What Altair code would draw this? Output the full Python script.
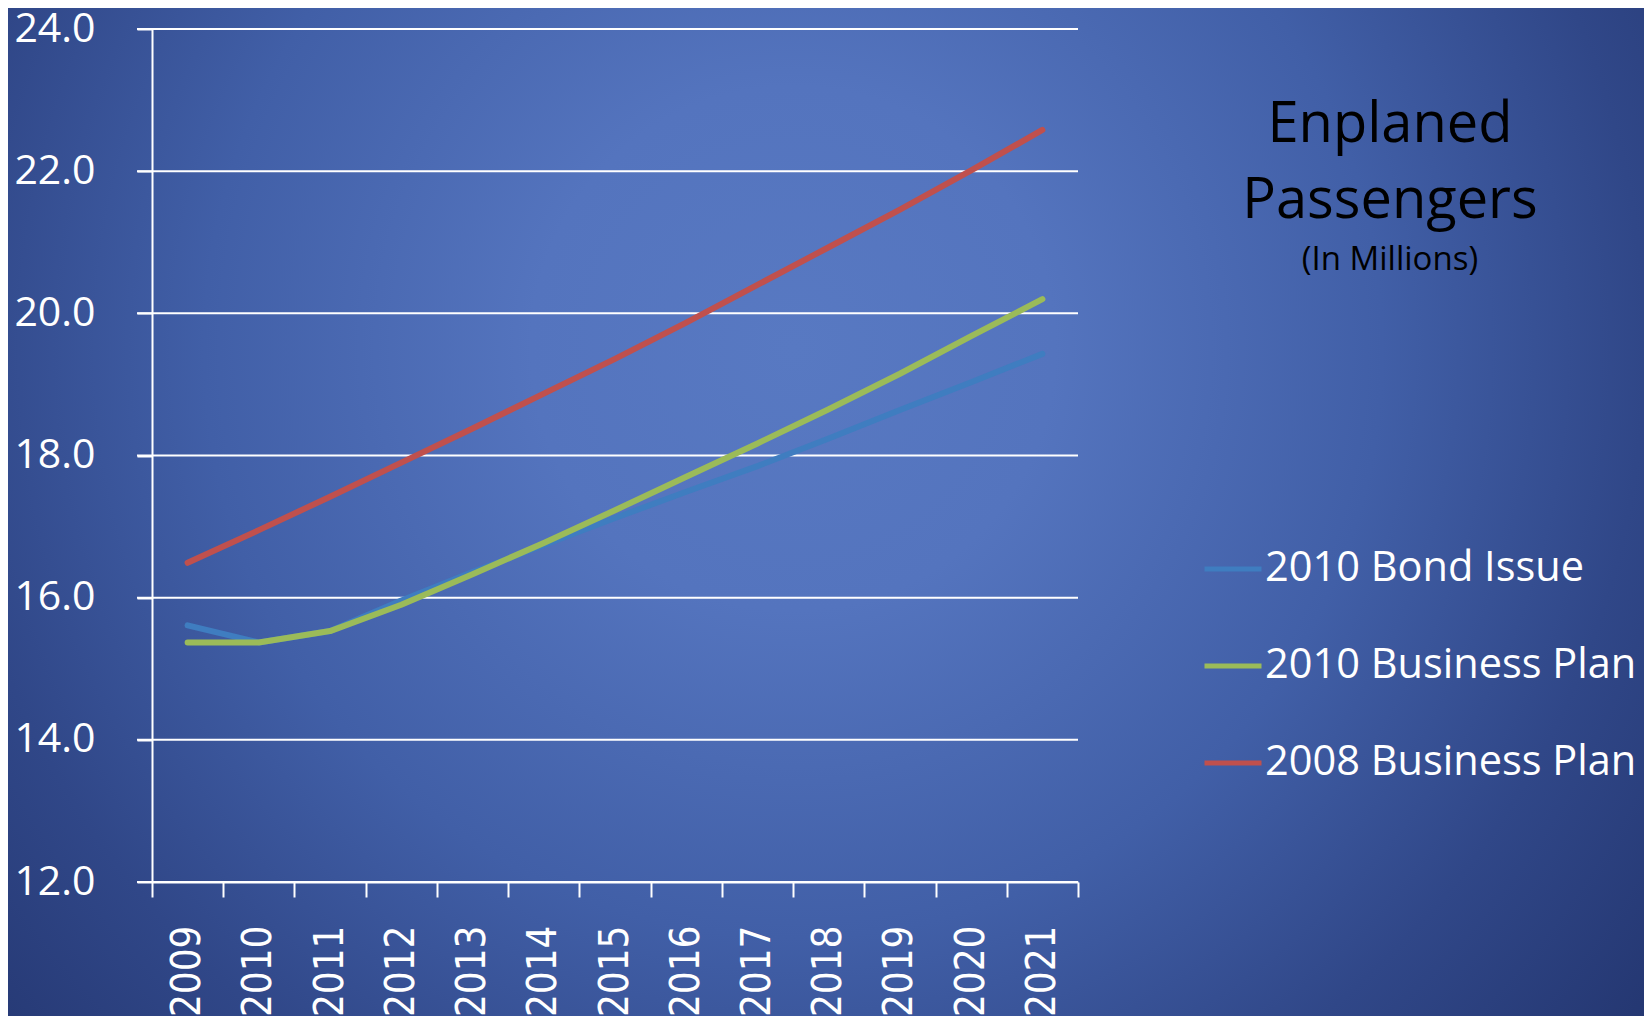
import altair as alt
import pandas as pd

years = list(range(2009, 2022))
bond_2010 = [15.61, 15.37, 15.53, 15.96, 16.36, 16.74, 17.12, 17.49, 17.85, 18.24, 18.64, 19.03, 19.43]
biz_2010 = [15.37, 15.37, 15.53, 15.90, 16.33, 16.77, 17.23, 17.70, 18.17, 18.65, 19.15, 19.68, 20.20]
biz_2008 = [16.49, 16.95, 17.42, 17.90, 18.38, 18.87, 19.36, 19.87, 20.40, 20.93, 21.46, 22.01, 22.58]
series_names = ["2010 Bond Issue", "2010 Business Plan", "2008 Business Plan"]
series_colors = ["#3F7DC0", "#9BBB59", "#C0504D"]
y_ticks = [12, 14, 16, 18, 20, 22, 24]
x_tick_vals = [y + d for y in years for d in (-0.5, 0)] + [2021.5]

rows = []
for name, vals in zip(series_names, [bond_2010, biz_2010, biz_2008]):
    for yr, v in zip(years, vals):
        rows.append({"year": yr, "value": v, "series": name})
df = pd.DataFrame(rows)
grid_df = pd.DataFrame({"value": y_ticks})

W, H = 926, 853
PL, PT, PR, PB = 144, 21, 566, 134

bg = alt.Chart(pd.DataFrame({"bg": [0]})).mark_rect(
    color=alt.Gradient(
        gradient="radial",
        stops=[
            alt.GradientStop(offset=0, color="#5879c2"),
            alt.GradientStop(offset=0.2, color="#5474be"),
            alt.GradientStop(offset=0.45, color="#415fa7"),
            alt.GradientStop(offset=0.65, color="#304788"),
            alt.GradientStop(offset=0.85, color="#23356f"),
            alt.GradientStop(offset=1, color="#1f2f68"),
        ],
        x1=0.48, y1=0.4, r1=0, x2=0.48, y2=0.4, r2=0.8,
    )
).encode(
    x=alt.value(-PL), x2=alt.value(W + PR), y=alt.value(-PT), y2=alt.value(H + PB)
)

x_enc = alt.X(
    "year:Q",
    scale=alt.Scale(domain=[2008.5, 2021.5], nice=False, zero=False),
    axis=alt.Axis(
        values=x_tick_vals,
        labelExpr="datum.value % 1 == 0 ? datum.value : ''",
        tickOpacity={"condition": {"test": "datum.value % 1 == 0", "value": 0}, "value": 1},
        labelAngle=-90,
        labelFont="DejaVu Sans Condensed, Liberation Sans, sans-serif",
        labelFontSize=40,
        labelColor="white",
        labelPadding=28,
        labelOverlap=False,
        labelBound=False,
        labelFlush=False,
        tickSize=15,
        tickColor="white",
        tickWidth=2,
        domainColor="white",
        domainWidth=2,
        grid=False,
        title=None,
        zindex=1,
    ),
)
y_enc = alt.Y(
    "value:Q",
    scale=alt.Scale(domain=[12, 24], nice=False, zero=False),
    axis=alt.Axis(
        values=y_ticks,
        format=".1f",
        labelFont="Open Sans",
        labelFontSize=41,
        labelColor="white",
        labelPadding=42,
        tickSize=15,
        tickColor="white",
        tickWidth=2,
        domainColor="white",
        domainWidth=2,
        grid=False,
        title=None,
        zindex=1,
    ),
)
color_enc = alt.Color(
    "series:N",
    scale=alt.Scale(domain=series_names, range=series_colors),
    legend=alt.Legend(
        title=None,
        orient="none",
        legendX=1050,
        legendY=509,
        symbolType="stroke",
        symbolSize=3249,
        symbolStrokeWidth=5,
        labelFont="Open Sans",
        labelFontSize=41.5,
        labelColor="white",
        labelOffset=1,
        rowPadding=45,
        padding=0,
        labelLimit=600,
    ),
)

grid = alt.Chart(grid_df).mark_rule(color="white", strokeWidth=2).encode(
    y=y_enc, x=alt.value(-15), x2=alt.value(W)
)

layers = [bg, grid]
for name in series_names:
    layers.append(
        alt.Chart(df)
        .transform_filter(alt.datum.series == name)
        .mark_line(strokeWidth=6, strokeCap="round", strokeJoin="round")
        .encode(x=x_enc, y=y_enc, color=color_enc)
    )

chart = (
    alt.layer(*layers)
    .properties(
        width=W,
        height=H,
        autosize=alt.AutoSizeParams(type="none"),
        padding={"left": PL, "top": PT, "right": PR, "bottom": PB},
        title=alt.TitleParams(
            text=["Enplaned", "Passengers"],
            subtitle="(In Millions)",
            font="Open Sans",
            fontSize=56,
            fontWeight="normal",
            color="black",
            lineHeight=76,
            subtitleFont="Open Sans",
            subtitleFontSize=33,
            subtitleColor="black",
            subtitlePadding=14,
            anchor="middle",
            frame="group",
            dx=775,
            dy=274,
        ),
    )
    .configure(background="#2c4180")
    .configure_view(stroke=None)
)

chart.save("out.html", embed_options={"renderer": "svg", "actions": False})
